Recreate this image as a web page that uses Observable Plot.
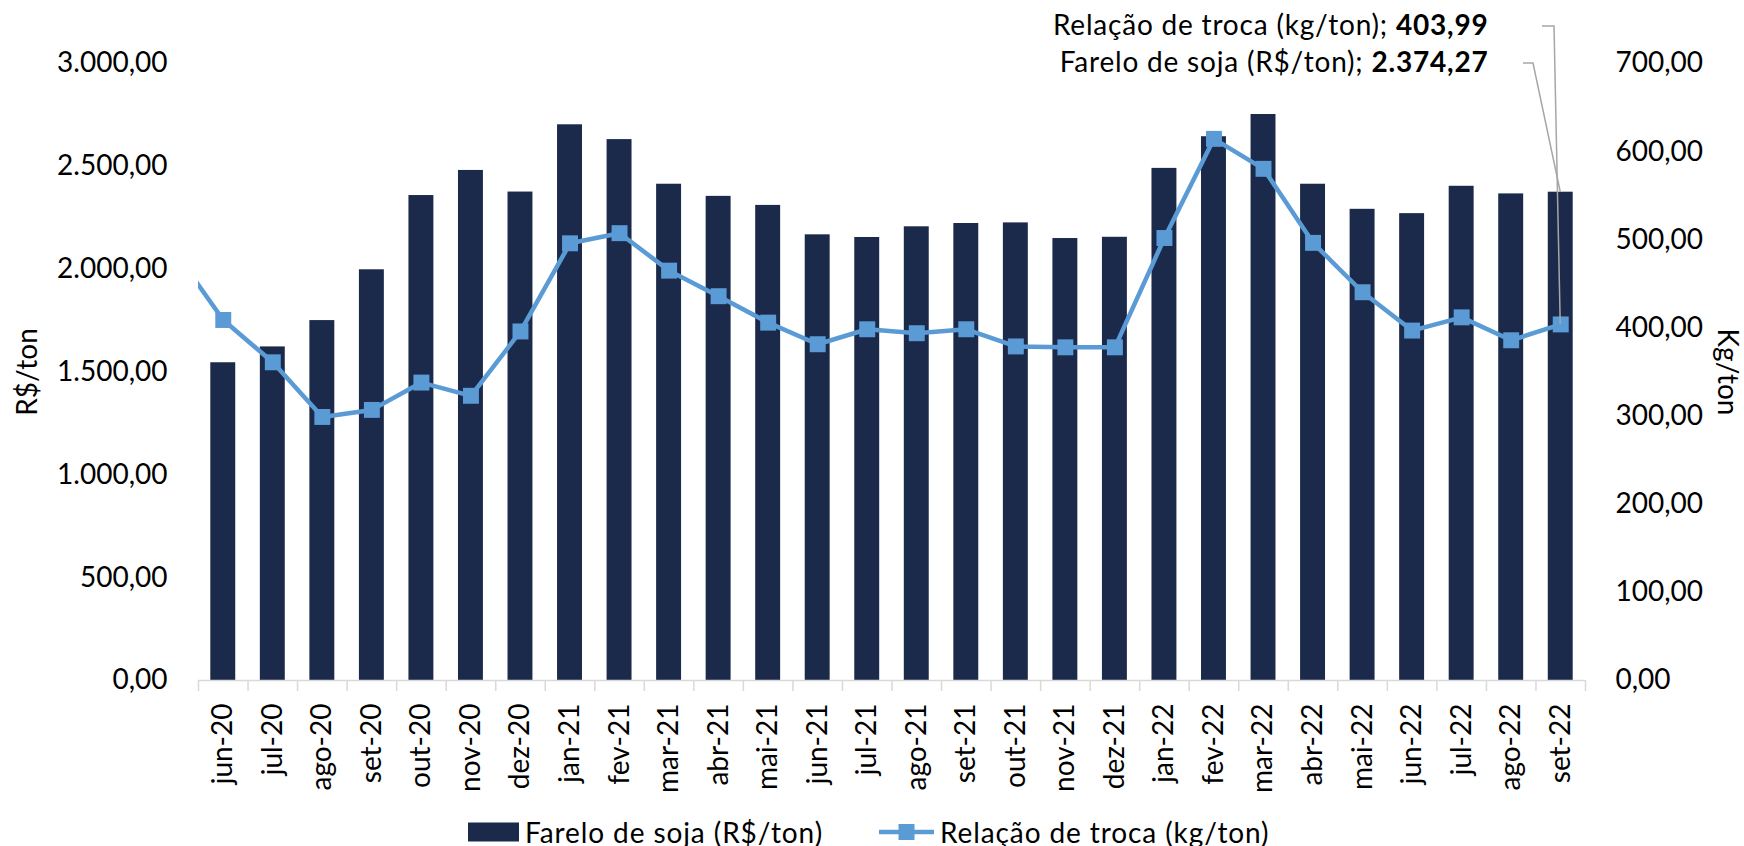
<!DOCTYPE html>
<html>
<head>
<meta charset="utf-8">
<script src="https://cdn.jsdelivr.net/npm/d3@7"></script>
<script src="https://cdn.jsdelivr.net/npm/@observablehq/plot@0.6"></script>
<style>
  html, body { margin: 0; padding: 0; background: #fff; }
  body { width: 1744px; height: 846px; overflow: hidden; font-family: Lato, sans-serif; color: #000; }
  #legend { display: flex; align-items: center; height: 64px; padding-left: 468px; font-size: 28px; line-height: 1; letter-spacing: 0.9px; }
  #legend .item { display: flex; align-items: center; }
  #legend svg { display: block; }
</style>
</head>
<body>
<div id="chart"></div>
<div id="legend"></div>
<script>
// ---- data ----
const months = ["jun-20","jul-20","ago-20","set-20","out-20","nov-20","dez-20",
  "jan-21","fev-21","mar-21","abr-21","mai-21","jun-21","jul-21","ago-21","set-21","out-21","nov-21","dez-21",
  "jan-22","fev-22","mar-22","abr-22","mai-22","jun-22","jul-22","ago-22","set-22"];
// Farelo de soja (R$/ton) — left axis
const farelo = [1545, 1622, 1750, 1997, 2358, 2480, 2375,
  2702, 2630, 2413, 2354, 2310, 2167, 2154, 2206, 2222, 2225, 2149, 2155,
  2490, 2644, 2752, 2413, 2291, 2270, 2403, 2366, 2374.27];
// Relação de troca (kg/ton) — right axis
const troca = [409, 361, 299, 307, 338, 323, 396,
  496, 507.5, 465, 436, 406, 381.5, 398.5, 394, 398.5, 379, 378, 378,
  502, 614.5, 580.5, 496.5, 440.5, 397, 412, 386, 403.99];
// previous month (mai-20), only its segment is visible at the left edge
const trocaAnterior = 488;
const seriesNames = ["Farelo de soja (R$/ton)", "Relação de troca (kg/ton)"];
const leftTicks = [0, 500, 1000, 1500, 2000, 2500, 3000];
const rightTicks = [0, 100, 200, 300, 400, 500, 600, 700];
const axisTitles = ["R$/ton", "Kg/ton"];

// ---- helpers ----
const barColor = "#1b2a4a";
const lineColor = "#5b9bd5";
const k = leftTicks[leftTicks.length - 1] / rightTicks[rightTicks.length - 1];
const fmt = d3.formatLocale({decimal: ",", thousands: ".", grouping: [3], currency: ["R$", ""]}).format(",.2f");

const bars = months.map((m, i) => ({i, m, v: farelo[i]}));
const linePts = [{i: -1, v: trocaAnterior}, ...months.map((m, i) => ({i, v: troca[i]}))];
const last = months.length - 1;
const notes = [
  {name: seriesNames[1], value: fmt(troca[last])},
  {name: seriesNames[0], value: fmt(farelo[last])}
];

const chart = Plot.plot({
  width: 1744,
  height: 800,
  marginLeft: 198,
  marginRight: 159,
  marginTop: 63,
  marginBottom: 120,
  x: {type: "linear", domain: [0, months.length], axis: null},
  y: {domain: [0, leftTicks[leftTicks.length - 1]], axis: null},
  style: {fontFamily: "Lato, sans-serif", fontSize: "28px", color: "#000", background: "#fff", overflow: "visible"},
  marks: [
    Plot.rectY(bars, {x1: d => d.i, x2: d => d.i + 1, y: "v", insetLeft: 12.3, insetRight: 12.3, fill: barColor}),
    Plot.ruleY([0], {stroke: "#d9d9d9", strokeWidth: 1.5}),
    Plot.axisX(d3.range(months.length + 1), {tickSize: 11, stroke: "#d9d9d9", strokeWidth: 1.5, tickFormat: () => "", label: null}),
    Plot.axisX(months.map((m, i) => i + 0.5), {tickSize: 0, tickPadding: 23, tickRotate: -90,
      tickFormat: d => months[Math.floor(d)], fontSize: 28, fill: "#000", label: null}),
    Plot.axisY(leftTicks, {anchor: "left", tickSize: 0, tickPadding: 31, tickFormat: fmt, fontSize: 28, fill: "#000", label: null}),
    Plot.axisY(rightTicks.map(v => v * k), {anchor: "right", tickSize: 0, tickPadding: 30,
      tickFormat: v => fmt(v / k), fontSize: 28, fill: "#000", label: null}),
    Plot.line(linePts, {x: d => d.i + 0.5, y: d => d.v * k, stroke: lineColor, strokeWidth: 4.5, clip: true}),
    Plot.dot(linePts, {x: d => d.i + 0.5, y: d => d.v * k, symbol: "square", r: 9, fill: lineColor, clip: true}),
    Plot.text([axisTitles[0]], {frameAnchor: "left", rotate: -90, textAnchor: "middle", lineAnchor: "middle", dx: -170, fontSize: 28, fill: "#000"}),
    Plot.text([axisTitles[1]], {frameAnchor: "right", rotate: 90, textAnchor: "middle", lineAnchor: "middle", dx: 141, fontSize: 28, fill: "#000"}),
    Plot.text([notes[0]], {frameAnchor: "top-right", text: d => `${d.name}; ${d.value}`, textAnchor: "end", lineAnchor: "middle", dx: -97, dy: -37, fontSize: 28, fill: "#000"}),
    Plot.text([notes[1]], {frameAnchor: "top-right", text: d => `${d.name}; ${d.value}`, textAnchor: "end", lineAnchor: "middle", dx: -97, dy: 0, fontSize: 28, fill: "#000"})
  ]
});
document.getElementById("chart").appendChild(chart);

// bold the values in the data labels
const svg = d3.select(chart);
svg.selectAll("text").each(function() {
  const t = this.textContent;
  const n = notes.find(d => t === `${d.name}; ${d.value}`);
  if (n) {
    const el = d3.select(this);
    el.text(null).attr("letter-spacing", "0.8px");
    el.append("tspan").text(`${n.name}; `);
    el.append("tspan").attr("font-weight", "bold").text(n.value);
  }
});

// leader lines from labels to the last points
const xs = chart.scale("x"), ys = chart.scale("y");
const xLast = xs.apply(last + 0.5);
const xRight = xs.range[1];
const textEnd = xRight - 97;
const yTop = ys.apply(leftTicks[leftTicks.length - 1]);
const leaders = [
  {y0: yTop - 37, a: 54, b: 66, y1: ys.apply(troca[last] * k)},
  {y0: yTop, a: 35, b: 45, y1: ys.apply(farelo[last])}
];
svg.append("g").selectAll("path").data(leaders).join("path")
  .attr("fill", "none").attr("stroke", "#a6a6a6").attr("stroke-width", 1.5)
  .attr("d", d => `M${textEnd + d.a},${d.y0}H${textEnd + d.b}L${xLast},${d.y1}`);

// legend
const legend = d3.select("#legend");
const it1 = legend.append("div").attr("class", "item");
const s1 = it1.append("svg").attr("width", 51).attr("height", 20).style("margin-right", "6px");
s1.append("rect").attr("x", 0).attr("y", 0.5).attr("width", 51).attr("height", 19).attr("fill", barColor);
it1.append("span").text(seriesNames[0]);
const it2 = legend.append("div").attr("class", "item").style("margin-left", "56px");
const s2 = it2.append("svg").attr("width", 55).attr("height", 20).style("margin-right", "6px");
s2.append("line").attr("x1", 0).attr("x2", 55).attr("y1", 10).attr("y2", 10).attr("stroke", lineColor).attr("stroke-width", 4.5);
s2.append("rect").attr("x", 19.5).attr("y", 2).attr("width", 16).attr("height", 16).attr("fill", lineColor);
it2.append("span").text(seriesNames[1]);
</script>
</body>
</html>
